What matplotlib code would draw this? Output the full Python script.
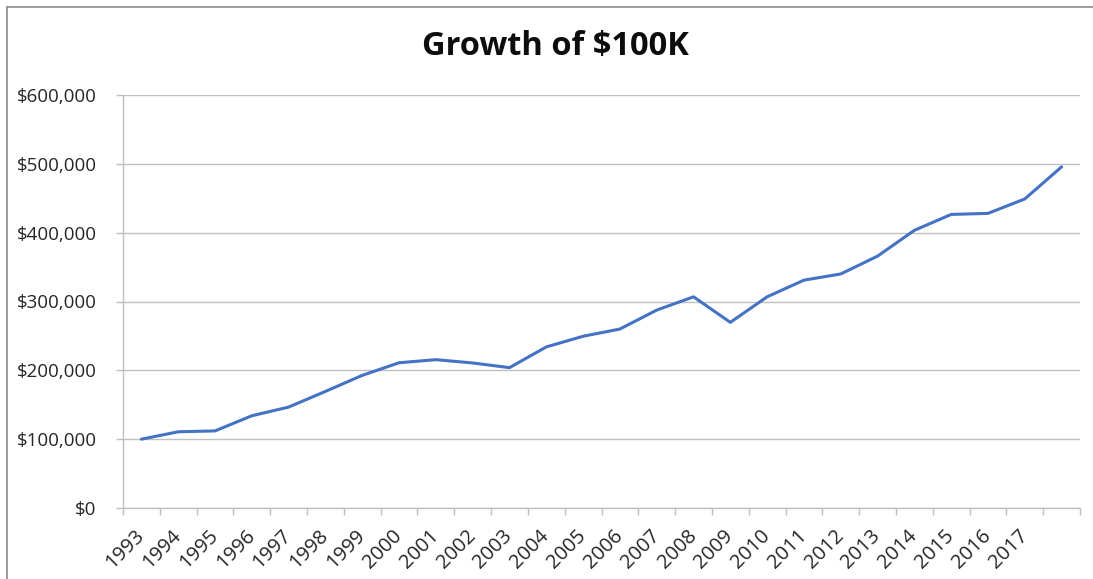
import matplotlib
matplotlib.use("Agg")
import matplotlib.pyplot as plt
from matplotlib.lines import Line2D
from matplotlib.ticker import FuncFormatter, FixedLocator

years = [str(y) for y in range(1993, 2018)] + [""]
values = [100000, 110700, 112000, 134000, 146600, 169400, 192700, 211000,
          215500, 210700, 203900, 234000, 249500, 260000, 287500, 306800,
          269700, 306800, 331000, 340000, 365900, 403400, 426500, 428000,
          449000, 495600]

W, H = 1093, 579
fig = plt.figure(figsize=(W / 100, H / 100), dpi=100)
plt.rcParams['font.family'] = ['Open Sans', 'DejaVu Sans']

ax = fig.add_axes([123 / W, 1 - 508 / H, (1080 - 123) / W, (508 - 95) / H])

x = list(range(len(values)))
ax.plot(x, values, color='#4472C4', lw=2.2, solid_capstyle='round', zorder=3)

ax.set_xlim(-0.5, len(values) - 0.5)
ax.set_ylim(0, 600000)
ax.yaxis.set_major_locator(FixedLocator([i * 100000 for i in range(7)]))
ax.yaxis.set_major_formatter(FuncFormatter(lambda v, p: "${:,.0f}".format(v)))
ax.grid(axis='y', color='#bfbfbf', lw=1.0, zorder=0)

ax.set_xticks(x)
ax.set_xticklabels(years, rotation=45, ha='right', va='center', rotation_mode='anchor')
ax.set_xticks([i - 0.5 for i in range(len(values) + 1)], minor=True)
ax.tick_params(axis='x', which='major', length=0, pad=18, labelsize=14.5, labelcolor='#262626')
ax.tick_params(axis='x', which='minor', length=5, width=1, color='#bfbfbf', direction='out')
ax.tick_params(axis='y', length=5, width=1, color='#bfbfbf', pad=14, labelsize=13.5, labelcolor='#262626')

for s in ['top', 'right']:
    ax.spines[s].set_visible(False)
for s in ['left', 'bottom']:
    ax.spines[s].set_color('#bfbfbf')
    ax.spines[s].set_linewidth(1.0)

fig.text(555 / W, 1 - 47 / H, "Growth of $100K", ha='center', va='center',
         fontsize=23.5, fontweight='bold', color='#0d0d0d')

fig.add_artist(Line2D([7 / W, 7 / W], [0, 1 - 7 / H], color='#8c8c8c', lw=1.2, transform=fig.transFigure))
fig.add_artist(Line2D([7 / W, 1], [1 - 7 / H, 1 - 7 / H], color='#8c8c8c', lw=1.2, transform=fig.transFigure))

fig.savefig("out.png", dpi=100)
